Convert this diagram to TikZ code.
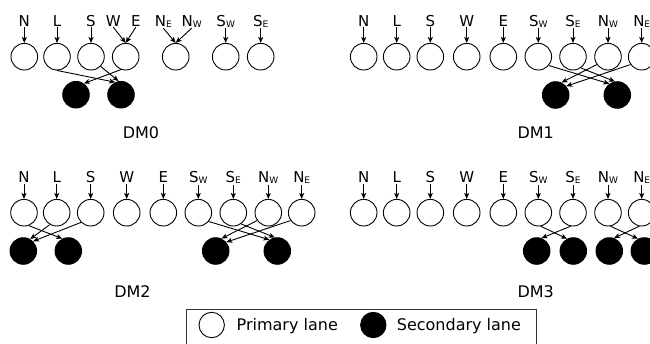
\documentclass[tikz,border=0pt]{standalone}
\usepackage{fontspec}
\setmainfont{DejaVu Sans}
\usetikzlibrary{arrows.meta}
\newcommand{\sbs}[1]{\raisebox{-1pt}{\fontsize{9}{9}\selectfont #1}}
\tikzset{
  pl/.style={circle, draw=black, line width=0.9pt, minimum size=26.6pt, inner sep=0pt},
  sl/.style={circle, draw=black, fill=black, line width=0.9pt, minimum size=26.6pt, inner sep=0pt},
  lab/.style={font=\fontsize{15}{15}\selectfont, inner sep=1pt, anchor=base},
  dmlab/.style={font=\fontsize{16}{16}\selectfont, inner sep=0pt, anchor=base},
  leglab/.style={font=\fontsize{16}{16}\selectfont, inner sep=0pt, anchor=base west},
  arr/.style={-{Stealth[length=6pt,width=5pt,inset=1.5pt]}, line width=0.9pt},
}
\begin{document}
\begin{tikzpicture}[x=1pt,y=-1pt]
\useasboundingbox (0,0) rectangle (650,343);
\clip (0,0) rectangle (650,343);

% ---------------- DM0 ----------------
\foreach \x [count=\i] in {24.3,57,91,125.7,175.7,225.7,260.7}
  \node[pl] (a\i) at (\x,56.7) {};
\foreach \x/\t [count=\i] in {24.3/N,57/L,91/S,113.3/W,135.8/E,163.3/{N\sbs{E}},191.7/{N\sbs{W}},225.7/{S\sbs{W}},260.7/{S\sbs{E}}}
  \node[lab] (al\i) at (\x,26) {\t};
\draw[arr] (al1.south) -- (a1.north);
\draw[arr] (al2.south) -- (a2.north);
\draw[arr] (al3.south) -- (a3.north);
\draw[arr] (al4.south) -- (a4.north);
\draw[arr] (al5.south) -- (a4.north);
\draw[arr] (al6.south) -- (a5.north);
\draw[arr] (al7.south) -- (a5.north);
\draw[arr] (al8.south) -- (a6.north);
\draw[arr] (al9.south) -- (a7.north);
\node[sl] (ab1) at (76,94.7) {};
\node[sl] (ab2) at (121,94.7) {};
\draw[arr] (a2.-90) -- (ab2.115);
\draw[arr] (a3.-45) -- (ab2.100);
\draw[arr] (a4.-110) -- (ab1.55);
\node[dmlab] (dm0) at (141,138.5) {DM0};

% ---------------- DM1 ----------------
\foreach \x/\t [count=\i] in {363.7/N,396.7/L,430.3/S,466.7/W,503.3/E,538.3/{S\sbs{W}},573/{S\sbs{E}},608/{N\sbs{W}},641.7/{N\sbs{E}}}{
  \node[pl] (b\i) at (\x,56.7) {};
  \node[lab] (bl\i) at (\x,26) {\t};
  \draw[arr] (bl\i.south) -- (b\i.north);
}
\node[sl] (bb1) at (555.7,95) {};
\node[sl] (bb2) at (617.3,95) {};
\draw[arr] (b6.-40) -- (bb2.125);
\draw[arr] (b7.-55) -- (bb2.100);
\draw[arr] (b8.-145) -- (bb1.65);
\draw[arr] (b9.-145) -- (bb1.40);
\node[dmlab] (dm1) at (535.7,138.5) {DM1};

% ---------------- DM2 ----------------
\foreach \x/\t [count=\i] in {24/N,56.7/L,90.7/S,126.7/W,163.3/E,198.3/{S\sbs{W}},233.3/{S\sbs{E}},268.3/{N\sbs{W}},301.7/{N\sbs{E}}}{
  \node[pl] (c\i) at (\x,212.7) {};
  \node[lab] (cl\i) at (\x,182.5) {\t};
  \draw[arr] (cl\i.south) -- (c\i.north);
}
\node[sl] (cb1) at (23.3,251) {};
\node[sl] (cb2) at (68.3,251) {};
\node[sl] (cb3) at (215.7,251) {};
\node[sl] (cb4) at (277.3,251) {};
\draw[arr] (c1.-70) -- (cb2.116);
\draw[arr] (c2.-120) -- (cb1.60);
\draw[arr] (c3.-135) -- (cb1.45);
\draw[arr] (c6.-40) -- (cb4.125);
\draw[arr] (c7.-55) -- (cb4.100);
\draw[arr] (c8.-145) -- (cb3.65);
\draw[arr] (c9.-145) -- (cb3.40);
\node[dmlab] (dm2) at (132.5,297) {DM2};

% ---------------- DM3 ----------------
\foreach \x/\t [count=\i] in {363.7/N,396.7/L,430.3/S,466.7/W,503.3/E,538.3/{S\sbs{W}},573/{S\sbs{E}},608/{N\sbs{W}},641.7/{N\sbs{E}}}{
  \node[pl] (d\i) at (\x,212.7) {};
  \node[lab] (dl\i) at (\x,182.5) {\t};
  \draw[arr] (dl\i.south) -- (d\i.north);
}
\node[sl] (db1) at (536.7,251) {};
\node[sl] (db2) at (573.3,251) {};
\node[sl] (db3) at (609.3,251) {};
\node[sl] (db4) at (644.3,251) {};
\draw[arr] (d6.-80) -- (db2.117);
\draw[arr] (d7.-100) -- (db1.70);
\draw[arr] (d8.-80) -- (db4.117);
\draw[arr] (d9.-100) -- (db3.70);
\node[dmlab] (dm3) at (535.7,297) {DM3};

% ---------------- Legend ----------------
\draw[line width=0.9pt, black!80] (186,345) -- (186,309) -- (536,309) -- (536,345);
\node[pl, minimum size=25.4pt] (lp) at (211.7,325) {};
\node[leglab] (lpt) at (236.5,330.5) {Primary lane};
\node[sl, minimum size=25.4pt] (ls) at (373.3,325) {};
\node[leglab] (lst) at (396.7,330.5) {Secondary lane};
\end{tikzpicture}
\end{document}
